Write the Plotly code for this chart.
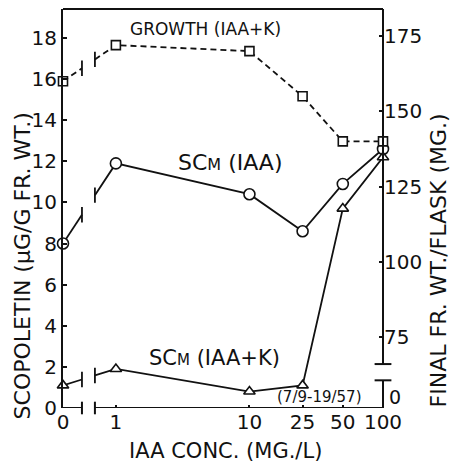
import numpy as np
import plotly.graph_objects as go

# IAA concentration (mg/L)
conc = [0, 1, 10, 25, 50, 100]
conc_labels = ["0", "1", "10", "25", "50", "100"]

# Scopoletin content (ug/g fresh weight)
sc_iaa = [8.0, 11.9, 10.4, 8.6, 10.9, 12.6]
sc_iaa_k = [1.1, 1.9, 0.8, 1.1, 9.7, 12.2]

# Final fresh weight per flask (mg), IAA + kinetin
growth_iaa_k = [160, 172, 170, 155, 140, 140]

left_ticks = [0, 2, 4, 6, 8, 10, 12, 14, 16, 18]
right_ticks = [75, 100, 125, 150, 175]

# --- broken log scale for concentration: 0 sits left of the break ---
ZERO_POS = -0.396
BREAK_LO, BREAK_HI = -0.254, -0.157
X_MAX = 2.0


def xpos(c):
    return np.log10(c) if c > 0 else ZERO_POS


xs = [xpos(c) for c in conc]

Y_RANGE = [0, 19.41]
Y2_RANGE = [51.4, 184.0]

INK = "#111111"
FONT = "DejaVu Sans"

fig = go.Figure()


def broken_series(vals, yaxis, dash):
    """Line with a gap between the 0 point and the 1 mg/L point."""
    x0, x1 = xs[0], xs[1]
    y0, y1 = vals[0], vals[1]
    ylo = y0 + (y1 - y0) * (BREAK_LO - x0) / (x1 - x0)
    yhi = y0 + (y1 - y0) * (BREAK_HI - x0) / (x1 - x0)
    lx = [x0, BREAK_LO, None, BREAK_HI] + xs[1:]
    ly = [y0, ylo, None, yhi] + list(vals[1:])
    fig.add_trace(go.Scatter(
        x=lx, y=ly, mode="lines", yaxis=yaxis, cliponaxis=False,
        line=dict(color=INK, width=1.8, dash=dash), hoverinfo="skip",
        showlegend=False))
    fig.add_trace(go.Scatter(
        x=[BREAK_LO, BREAK_HI], y=[ylo, yhi], mode="markers", yaxis=yaxis,
        cliponaxis=False,
        marker=dict(symbol="line-ns", size=11,
                    line=dict(color=INK, width=1.8)),
        hoverinfo="skip", showlegend=False))


def point_markers(vals, yaxis, symbol, size):
    fig.add_trace(go.Scatter(
        x=xs, y=vals, mode="markers", yaxis=yaxis, cliponaxis=False,
        marker=dict(symbol=symbol, size=size, color="white",
                    line=dict(color=INK, width=1.6)),
        showlegend=False))


broken_series(growth_iaa_k, "y2", "6px,4px")
broken_series(sc_iaa, "y", "solid")
broken_series(sc_iaa_k, "y", "solid")
point_markers(growth_iaa_k, "y2", "square", 9)
point_markers(sc_iaa, "y", "circle", 11)
point_markers(sc_iaa_k, "y", "triangle-up", 10)

# broken x axis line with end caps
shapes = [
    dict(type="line", xref="x", yref="y", x0=ZERO_POS, x1=BREAK_LO,
         y0=0, y1=0, line=dict(color=INK, width=2)),
    dict(type="line", xref="x", yref="y", x0=BREAK_HI, x1=X_MAX,
         y0=0, y1=0, line=dict(color=INK, width=2)),
    # top frame
    dict(type="line", xref="paper", yref="paper", x0=0, x1=1,
         y0=1, y1=1, line=dict(color=INK, width=2)),
    # broken right axis
    dict(type="line", xref="paper", yref="y2", x0=1, x1=1,
         y0=66.0, y1=Y2_RANGE[1], line=dict(color=INK, width=2)),
    dict(type="line", xref="paper", yref="y2", x0=1, x1=1,
         y0=Y2_RANGE[0], y1=60.6, line=dict(color=INK, width=2)),
]
fig.add_trace(go.Scatter(
    x=[BREAK_LO, BREAK_HI], y=[0, 0], mode="markers", cliponaxis=False,
    marker=dict(symbol="line-ns", size=9, line=dict(color=INK, width=2)),
    hoverinfo="skip", showlegend=False))
fig.add_trace(go.Scatter(
    x=[X_MAX, X_MAX], y=[66.0, 60.6], yaxis="y2", mode="markers",
    cliponaxis=False,
    marker=dict(symbol="line-ew", size=12, line=dict(color=INK, width=2)),
    hoverinfo="skip", showlegend=False))

annotations = [
    dict(x=0.672, y=18.43, xref="x", yref="y", text="GROWTH (IAA+K)",
         showarrow=False, font=dict(size=17, color=INK, family=FONT)),
    dict(x=0.858, y=11.92, xref="x", yref="y",
         text="SC<span style='font-size:16px'>M</span> (IAA)",
         showarrow=False, font=dict(size=22, color=INK, family=FONT)),
    dict(x=0.739, y=2.45, xref="x", yref="y",
         text="SC<span style='font-size:15px'>M</span> (IAA+K)",
         showarrow=False, font=dict(size=21, color=INK, family=FONT)),
    dict(x=1.522, y=0.55, xref="x", yref="y", text="(7/9-19/57)",
         showarrow=False, font=dict(size=15, color=INK, family=FONT)),
    # zero of the broken right axis
    dict(x=1, y=0, xref="paper", yref="y", text="0", xanchor="left",
         yanchor="middle", xshift=4, yshift=11, showarrow=False,
         font=dict(size=19, color=INK, family=FONT)),
    # axis titles
    dict(x=-0.128, y=0.355, xref="paper", yref="paper",
         xanchor="center", yanchor="middle",
         text="SCOPOLETIN (\u03bcG/G FR. WT.)", textangle=-90,
         showarrow=False, font=dict(size=22, color=INK, family=FONT)),
    dict(x=1.172, y=0.37, xref="paper", yref="paper",
         xanchor="center", yanchor="middle",
         text="FINAL FR. WT./FLASK (MG.)", textangle=-90,
         showarrow=False, font=dict(size=22, color=INK, family=FONT)),
    dict(x=0.509, y=-0.108, xref="paper", yref="paper",
         xanchor="center", yanchor="middle",
         text="IAA CONC. (MG./L)", showarrow=False,
         font=dict(size=21, color=INK, family=FONT)),
]

fig.update_layout(
    width=455, height=465,
    margin=dict(l=63, r=72, t=9, b=57),
    paper_bgcolor="white", plot_bgcolor="white",
    font=dict(family=FONT, color=INK, size=20),
    xaxis=dict(range=[ZERO_POS, X_MAX], tickvals=xs, ticktext=conc_labels,
               showline=False, showgrid=False, zeroline=False,
               ticks="inside", ticklen=3, tickwidth=2, tickcolor=INK,
               tickfont=dict(size=20)),
    yaxis=dict(range=Y_RANGE, tickvals=left_ticks, showgrid=False,
               zeroline=False, showline=True, linecolor=INK, linewidth=2,
               ticks="inside", ticklen=4, tickwidth=2, tickcolor=INK,
               tickfont=dict(size=20)),
    yaxis2=dict(range=Y2_RANGE, tickvals=right_ticks, overlaying="y",
                side="right", showgrid=False, zeroline=False, showline=False,
                ticks="inside", ticklen=4, tickwidth=2, tickcolor=INK,
                tickfont=dict(size=20)),
    shapes=shapes,
    annotations=annotations,
)

fig.write_html("out.html")
